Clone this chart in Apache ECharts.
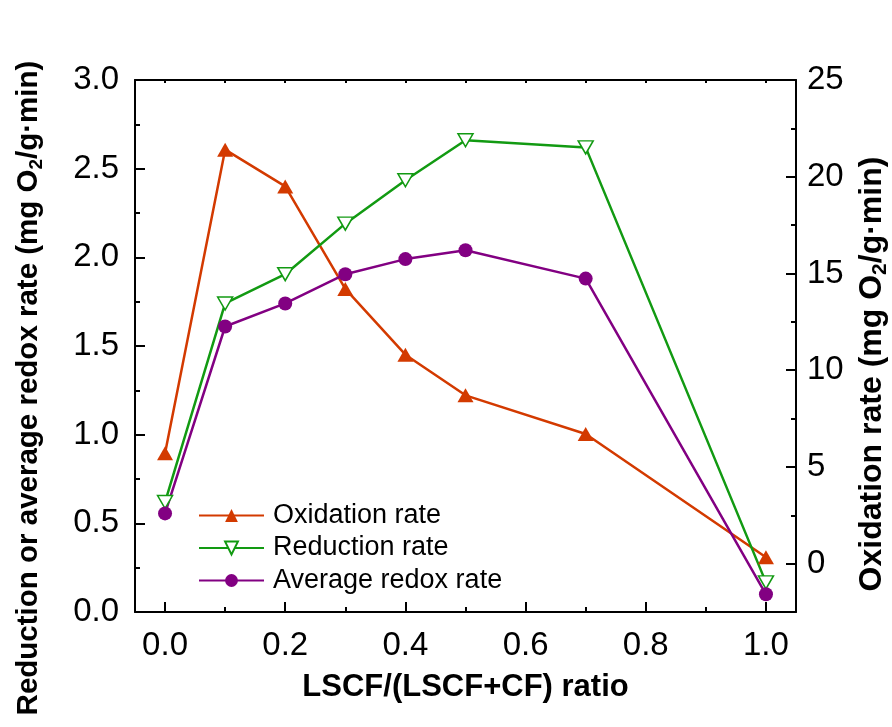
<!DOCTYPE html>
<html>
<head>
<meta charset="utf-8">
<script src="https://cdn.jsdelivr.net/npm/echarts@6/dist/echarts.min.js"></script>
<style>html,body{margin:0;padding:0;background:#fff}#c{width:892px;height:727px}</style>
</head>
<body>
<div id="c"></div>
<script>
var ratios = [0.0, 0.1, 0.2, 0.3, 0.4, 0.5, 0.7, 1.0];
var oxidationRate = [5.7, 21.4, 19.5, 14.2, 10.8, 8.7, 6.7, 0.33];
var reductionRate = [0.62, 1.74, 1.905, 2.19, 2.435, 2.66, 2.62, 0.167];
var averageRedoxRate = [0.556, 1.61, 1.74, 1.905, 1.99, 2.04, 1.88, 0.1];
var xMajorTicks = [0.0, 0.2, 0.4, 0.6, 0.8, 1.0];
var xMinorTicks = [0.1, 0.3, 0.5, 0.7, 0.9];
var xTopTicks = [0.0, 0.1, 0.2, 0.3, 0.4, 0.5, 0.6, 0.7, 0.8, 0.9, 1.0];
var leftMinorTicks = [0.25, 0.75, 1.25, 1.75, 2.25, 2.75];
var rightMajorTicks = [0, 5, 10, 15, 20, 25];
var rightMinorTicks = [2.5, 7.5, 12.5, 17.5, 22.5];

function pairs(xs, ys) { return xs.map(function (x, i) { return [x, ys[i]]; }); }

var FONT = '"Liberation Sans", Arial, sans-serif';
var black = '#000';
var axisLine = { show: true, onZero: false, lineStyle: { color: black, width: 2 } };
var noLine = { show: false, onZero: false };
function titleStyle(size, shift) {
  return {
    fontFamily: FONT, fontSize: size, fontWeight: 'bold', color: black, lineHeight: size + 4,
    padding: [0, shift, 0, 0],
    rich: { sub: { fontFamily: FONT, fontSize: Math.round(size * 0.65), fontWeight: 'bold', color: black, verticalAlign: 'bottom', lineHeight: 16 } }
  };
}
var labelStyle = { fontFamily: FONT, fontSize: 33, color: black };
var tickStyle = { color: black, width: 2 };

var chart = echarts.init(document.getElementById('c'), null, { renderer: 'canvas' });
chart.setOption({
  animation: false,
  backgroundColor: '#fff',
  grid: { left: 135, right: 96, top: 80, bottom: 115, containLabel: false, outerBoundsMode: 'none' },
  legend: {
    orient: 'vertical', left: 198, top: 502, padding: 0, itemWidth: 65, itemHeight: 16, itemGap: 5.5,
    textStyle: { fontFamily: FONT, fontSize: 27, color: black, padding: [0, 0, 0, 4] },
    data: ['Oxidation rate', 'Reduction rate', 'Average redox rate']
  },
  xAxis: [
    {
      type: 'value', min: -0.05, max: 1.05, position: 'bottom',
      name: 'LSCF/(LSCF+CF) ratio', nameLocation: 'middle', nameGap: 60,
      nameTextStyle: { fontFamily: FONT, fontSize: 31, fontWeight: 'bold', color: black },
      axisLine: axisLine,
      axisTick: { show: true, inside: true, length: 10, customValues: xMajorTicks, lineStyle: tickStyle },
      axisLabel: Object.assign({ margin: 17, customValues: xMajorTicks, formatter: function (v) { return v.toFixed(1); } }, labelStyle),
      splitLine: { show: false }
    },
    {
      type: 'value', min: -0.05, max: 1.05, position: 'bottom',
      axisLine: noLine,
      axisTick: { show: true, inside: true, length: 5, customValues: xMinorTicks, lineStyle: tickStyle },
      axisLabel: { show: false }, splitLine: { show: false }
    },
    {
      type: 'value', min: -0.05, max: 1.05, position: 'top',
      axisLine: axisLine,
      axisTick: { show: true, inside: true, length: 3, customValues: xTopTicks, lineStyle: tickStyle },
      axisLabel: { show: false }, splitLine: { show: false }
    }
  ],
  yAxis: [
    {
      type: 'value', min: 0, max: 3, interval: 0.5, position: 'left',
      name: 'Reduction or average redox rate (mg O{sub|2}/g·min)', nameLocation: 'middle', nameRotate: 90, nameGap: 89,
      nameTextStyle: titleStyle(29.5, 84),
      axisLine: axisLine,
      axisTick: { show: true, inside: true, length: 10, lineStyle: tickStyle },
      axisLabel: Object.assign({ margin: 16, formatter: function (v) { return v.toFixed(1); } }, labelStyle),
      splitLine: { show: false }
    },
    {
      type: 'value', min: 0, max: 3, position: 'left',
      axisLine: noLine,
      axisTick: { show: true, inside: true, length: 5, customValues: leftMinorTicks, lineStyle: tickStyle },
      axisLabel: { show: false }, splitLine: { show: false }
    },
    {
      type: 'value', min: -2.5, max: 25, position: 'right',
      name: 'Oxidation rate (mg O{sub|2}/g·min)', nameLocation: 'middle', nameRotate: 90, nameGap: 55,
      nameTextStyle: titleStyle(32, 56),
      axisLine: axisLine,
      axisTick: { show: true, inside: true, length: 10, customValues: rightMajorTicks, lineStyle: tickStyle },
      axisLabel: Object.assign({ margin: 11, customValues: rightMajorTicks, formatter: function (v) { return String(v); } }, labelStyle),
      splitLine: { show: false }
    },
    {
      type: 'value', min: -2.5, max: 25, position: 'right',
      axisLine: noLine,
      axisTick: { show: true, inside: true, length: 5, customValues: rightMinorTicks, lineStyle: tickStyle },
      axisLabel: { show: false }, splitLine: { show: false }
    }
  ],
  series: [
    {
      name: 'Oxidation rate', type: 'line', xAxisIndex: 0, yAxisIndex: 2,
      data: pairs(ratios, oxidationRate),
      symbol: 'triangle', symbolSize: [16, 14],
      lineStyle: { color: '#D33A00', width: 2.5 },
      itemStyle: { color: '#D33A00', borderWidth: 0 }
    },
    {
      name: 'Reduction rate', type: 'line', xAxisIndex: 0, yAxisIndex: 0,
      data: pairs(ratios, reductionRate),
      symbol: 'path://M0,0 L10,0 L5,9 Z', symbolSize: [15, 13],
      lineStyle: { color: '#129A12', width: 2.5 },
      itemStyle: { color: '#fff', borderColor: '#129A12', borderWidth: 1.5 }
    },
    {
      name: 'Average redox rate', type: 'line', xAxisIndex: 0, yAxisIndex: 0,
      data: pairs(ratios, averageRedoxRate),
      symbol: 'circle', symbolSize: 14,
      lineStyle: { color: '#820082', width: 2.5 },
      itemStyle: { color: '#820082', borderWidth: 0 }
    }
  ]
});
</script>
</body>
</html>
